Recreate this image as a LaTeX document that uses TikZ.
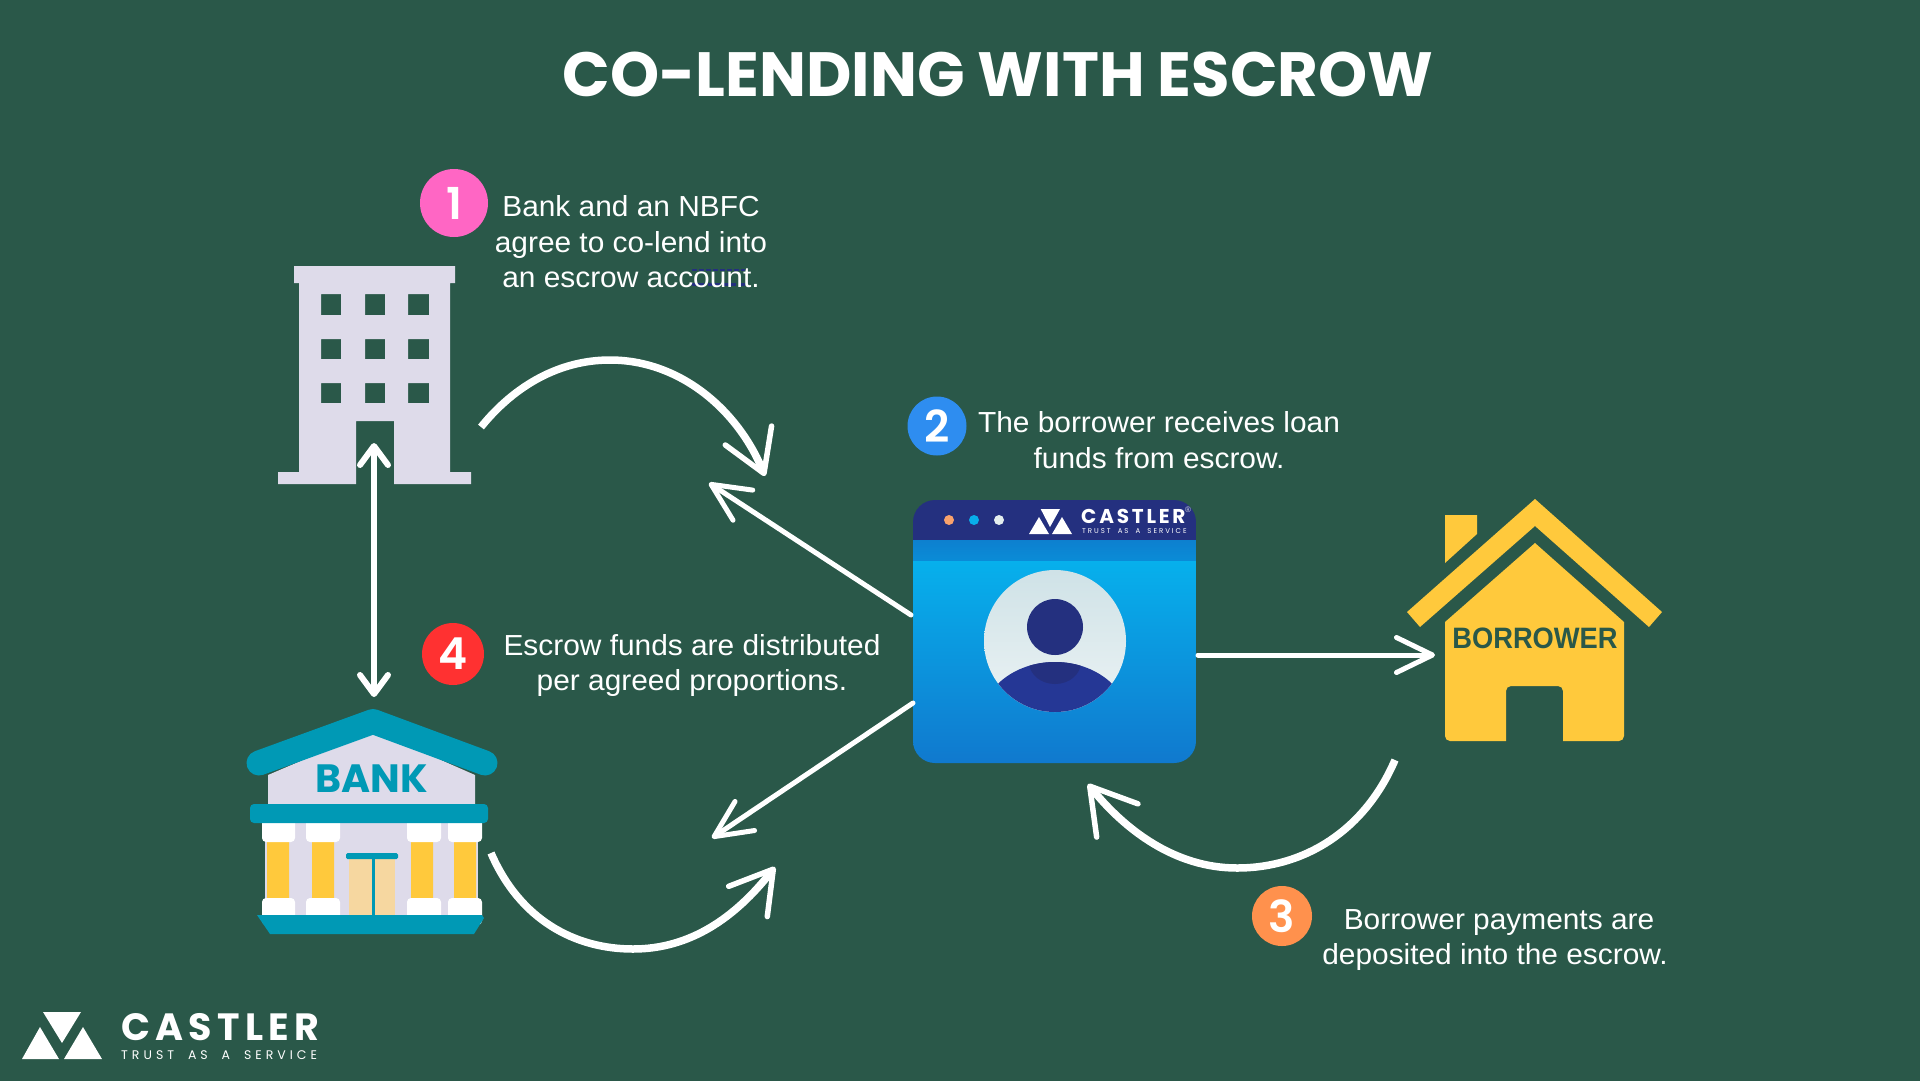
\documentclass[tikz,border=0pt]{standalone}
\usepackage{fontspec}
\usetikzlibrary{arrows.meta}
\setmainfont{Liberation Sans}
\newfontfamily\bodyf[FakeStretch=1.03]{Liberation Sans}
\newfontfamily\housef[FakeStretch=0.925]{Liberation Sans}
\newfontfamily\popf{Poppins}
\newfontfamily\numf{Poppins SemiBold}
\newfontfamily\logof[LetterSpace=14]{Poppins}
\newfontfamily\subfa[LetterSpace=32,WordSpace=1.9]{Poppins}
\newfontfamily\subfb[LetterSpace=28,WordSpace=1.85]{Poppins}
\definecolor{bgg}{HTML}{2A5849}
\definecolor{lav}{HTML}{DEDBEA}
\definecolor{teal2}{HTML}{0099B5}
\definecolor{yel}{HTML}{FFC93C}
\definecolor{navy}{HTML}{24307F}
\definecolor{shirt}{HTML}{253795}
\definecolor{doorc}{HTML}{F6D7A0}
\definecolor{dota}{RGB}{249,162,108}
\definecolor{dotb}{RGB}{8,174,234}
\definecolor{dotc}{RGB}{228,238,238}
\definecolor{bandt}{RGB}{13,128,207}
\definecolor{bandb}{RGB}{10,140,215}
\definecolor{cardt}{RGB}{7,176,236}
\definecolor{cardb}{RGB}{16,121,206}
\definecolor{avat}{RGB}{207,226,231}
\definecolor{avab}{RGB}{236,243,244}
\definecolor{pinkb}{RGB}{255,102,196}
\definecolor{blueb}{RGB}{46,141,240}
\definecolor{orangeb}{RGB}{255,145,77}
\definecolor{redb}{RGB}{255,49,49}
\tikzset{
  bodytext/.style={text=white,align=center,inner sep=0pt,font=\bodyf\fontsize{29}{35.5}\selectfont},
  numdot/.style={circle,minimum size=#1,inner sep=0pt,text=white,font=\numf\fontsize{44}{44}\selectfont},
  curvearrow/.style={white,line width=7.5pt},
  linearrow/.style={white,line width=5pt,line cap=round},
}
\begin{document}
\begin{tikzpicture}[x=1pt,y=-1pt]
\useasboundingbox (0,0) rectangle (1920,1080);
\fill[bgg] (-5,-5) rectangle (1925,1085);

% connector end points
\coordinate (bldDoor) at (374,443);
\coordinate (bankTop) at (374,697);
\coordinate (a1s) at (481,427);
\coordinate (a1t) at (610,360);
\coordinate (a1e) at (765,476);
\coordinate (a2s) at (911,615);
\coordinate (a2e) at (709,483);
\coordinate (a3s) at (913,703);
\coordinate (a3e) at (712,838);
\coordinate (a4s) at (491,853);
\coordinate (a4b) at (633,949);
\coordinate (a4e) at (775,867);
\coordinate (a5s) at (1198,655);
\coordinate (a5e) at (1435,655);
\coordinate (a6s) at (1395,760);
\coordinate (a6b) at (1237,868);
\coordinate (a6e) at (1088,784);

% title
\node[text=white,font=\popf\bfseries\fontsize{62.5}{62.5}\selectfont,inner sep=0pt] (title) at (998,74) {CO-LENDING WITH ESCROW};

% office building
\fill[lav,even odd rule] (294,266) -- (455,266) -- (455,283) -- (450,283) -- (450,472) -- (471,472) -- (471,484)
 -- (394,484) -- (394,421) -- (356,421) -- (356,484) -- (278,484) -- (278,472) -- (299,472) -- (299,283) -- (294,283) -- cycle
 (321,294) rectangle (341,315) (365,294) rectangle (385,315) (408,294) rectangle (429,315)
 (321,339) rectangle (341,359) (365,339) rectangle (385,359) (408,339) rectangle (429,359)
 (321,383) rectangle (341,403) (365,383) rectangle (385,403) (408,383) rectangle (429,403);

% bank
\fill[lav] (268,775) -- (373,730) -- (475,775) -- (475,805) -- (268,805) -- cycle;
\draw[teal2,line width=25pt,line cap=round,line join=round] (259,763) -- (373,721.5) -- (485,763);
\fill[lav] (265,820) rectangle (478,916);
\node[text=teal2,font=\popf\bfseries\fontsize{39.5}{39.5}\selectfont,inner sep=0pt,anchor=base] (banktext) at (371.5,792) {BANK};
\fill[yel] (267,840) rectangle (289,900) (312,840) rectangle (334,900) (411,840) rectangle (433,900) (454,840) rectangle (476,900);
\fill[doorc] (349,858) rectangle (395,915);
\fill[teal2] (372,858) rectangle (374.5,915);
\fill[teal2,rounded corners=1.5pt] (346,853) rectangle (398,859);
\foreach \xa/\xb in {262/295,306/340,407/441,448/482}{
  \fill[white,rounded corners=4pt] (\xa,815) rectangle (\xb,842);
  \fill[white,rounded corners=4pt] (\xa,898) rectangle (\xb,925);
}
\fill[teal2,rounded corners=4pt] (250,804) rectangle (488,823);
\fill[teal2] (257,915) -- (482,915) -- (484,918) -- (474,934) -- (270,934) -- cycle;

% escrow card
\begin{scope}
\clip[rounded corners=22pt] (913,500) rectangle (1196,763);
\fill[navy] (913,500) rectangle (1196,540);
\shade[top color=bandt,bottom color=bandb] (913,540) rectangle (1196,561);
\shade[top color=cardt,bottom color=cardb] (913,561) rectangle (1196,763);
\end{scope}
\fill[dota] (949,520) circle[radius=5];
\fill[dotb] (974,520) circle[radius=5];
\fill[dotc] (999,520) circle[radius=5];
\fill[white] (1040.7,509) -- (1060,509) -- (1050,527) -- cycle;
\fill[white] (1029,534) -- (1049,534) -- (1039,517) -- cycle;
\fill[white] (1052,534) -- (1072,534) -- (1062,517) -- cycle;
\node[text=white,font=\logof\bfseries\fontsize{20}{20}\selectfont,inner sep=0pt,anchor=base west] (cardlogo) at (1081,523) {CASTLER};
\node[text=white,font=\subfb\fontsize{7}{7}\selectfont,inner sep=0pt,anchor=base west] (cardsub) at (1082,533.5) {TRUST AS A SERVICE};
\node[text=white!80!navy,font=\fontsize{8}{8}\selectfont,inner sep=0pt] (cardreg) at (1188,510) {®};
% avatar
\begin{scope}
\clip (1055,641) circle[radius=71];
\shade[top color=avat,bottom color=avab] (980,570) rectangle (1130,712);
\fill[shirt] (1055,722) ellipse[x radius=74,y radius=60];
\begin{scope}
\clip (1055,722) ellipse[x radius=74,y radius=60];
\fill[navy] (1055,662) ellipse[x radius=26,y radius=22];
\end{scope}
\end{scope}
\fill[navy] (1055,627) circle[radius=28];

% house
\fill[yel] (1535,499) -- (1662,612) -- (1649,627) -- (1535,526) -- (1420,627) -- (1407,612) -- cycle;
\fill[yel] (1445,515) -- (1477,515) -- (1477,534) -- (1445,563) -- cycle;
\fill[yel] (1535,543) -- (1624,622) -- (1624,736) arc[start angle=0,end angle=90,radius=5] -- (1563,741) -- (1563,691) arc[start angle=0,end angle=-90,radius=5] -- (1511,686) arc[start angle=-90,end angle=-180,radius=5] -- (1506,741) -- (1450,741) arc[start angle=90,end angle=180,radius=5] -- (1445,622) -- cycle;
\node[text=bgg,font=\housef\bfseries\fontsize{29.5}{29.5}\selectfont,inner sep=0pt,anchor=base] (housetext) at (1535,648) {BORROWER};

% navy smudge behind the caption
\draw[navy,line width=1.5pt,dash pattern=on 5pt off 2pt] (692,270) -- (745,270);
\draw[navy,line width=3pt,dash pattern=on 12pt off 4pt] (692,284) -- (745,284);

% badges and captions
\node[numdot=68pt,fill=pinkb] (n1) at (454,203) {1};
\node[numdot=59pt,fill=blueb] (n2) at (937,426) {2};
\node[numdot=60pt,fill=orangeb] (n3) at (1282,916) {3};
\node[numdot=62pt,fill=redb] (n4) at (453,654) {4};
\node[bodytext] (t1) at (631,242) {Bank and an NBFC\\agree to co-lend into\\an escrow account.};
\node[bodytext] (t2) at (1159,440) {The borrower receives loan\\funds from escrow.};
\node[bodytext] (t4) at (692,665.5) {Escrow funds are distributed\\per agreed proportions.};
\node[bodytext] (t3) at (1495,940) {\hspace*{8pt}Borrower payments are\\deposited into the escrow.};

% connectors
\draw[linearrow,line width=6pt,{Straight Barb[length=19pt,width=28pt,round]}-{Straight Barb[length=19pt,width=28pt,round]}] (bldDoor) -- (bankTop);
\draw[curvearrow,-{Straight Barb[length=41pt,width=50pt,round,line width=5.5pt]}] (a1s) .. controls (515,385) and (560,360) .. (a1t) .. controls (680,360) and (738,410) .. (a1e);
\draw[linearrow,-{Straight Barb[length=38pt,width=36pt,round]}] (a2s) -- (a2e);
\draw[linearrow,-{Straight Barb[length=37pt,width=35pt,round]}] (a3s) -- (a3e);
\draw[curvearrow,-{Straight Barb[length=41pt,width=49pt,round,line width=5.5pt]}] (a4s) .. controls (520,920) and (575,949) .. (a4b) .. controls (690,949) and (735,918) .. (a4e);
\draw[linearrow,-{Straight Barb[length=36pt,width=35pt,round]}] (a5s) -- (a5e);
\draw[curvearrow,-{Straight Barb[length=44pt,width=53pt,round,line width=5.5pt]}] (a6s) .. controls (1365,830) and (1305,868) .. (a6b) .. controls (1175,868) and (1125,830) .. (a6e);

% footer logo
\fill[white] (43,1012) -- (81,1012) -- (62,1043) -- cycle;
\fill[white] (22,1059) -- (59,1059) -- (40,1027) -- cycle;
\fill[white] (64,1059) -- (102,1059) -- (83,1027) -- cycle;
\node[text=white,font=\logof\bfseries\fontsize{38}{38}\selectfont,inner sep=0pt,anchor=base west] (footlogo) at (121,1040) {CASTLER};
\node[text=white,font=\subfa\fontsize{12.5}{12.5}\selectfont,inner sep=0pt,anchor=base west] (footsub) at (121,1059) {TRUST AS A SERVICE};
\end{tikzpicture}
\end{document}
